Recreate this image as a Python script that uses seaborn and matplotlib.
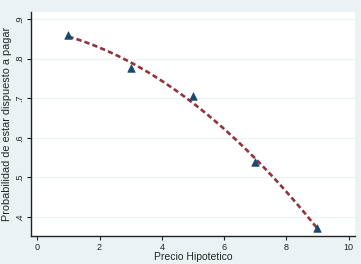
import numpy as np
import pandas as pd
import matplotlib
matplotlib.use("Agg")
import matplotlib.pyplot as plt
import seaborn as sns

# ========= DATOS =========
precio = [1, 3, 5, 7, 9]
probabilidad = [0.860, 0.776, 0.705, 0.539, 0.372]
yticks = [0.4, 0.5, 0.6, 0.7, 0.8, 0.9]
ytick_labels = [".4", ".5", ".6", ".7", ".8", ".9"]
xticks = [0, 2, 4, 6, 8, 10]

df = pd.DataFrame({"precio": precio, "prob": probabilidad})

sns.set_theme(style="white")
plt.rcParams["font.family"] = ["Liberation Sans", "DejaVu Sans"]

fig = plt.figure(figsize=(3.61, 2.64), dpi=100)
fig.patch.set_facecolor("#eaf2f3")
ax = fig.add_axes([0.086, 0.106, 0.897, 0.849])
ax.set_facecolor("white")

# ajuste cuadratico (linea discontinua)
sns.regplot(data=df, x="precio", y="prob", order=2, ci=None, scatter=False,
            ax=ax, line_kws=dict(color="#90353b", lw=1.9, ls=(0, (2.0, 1.2))))
sns.scatterplot(data=df, x="precio", y="prob", marker="^", s=30,
                color="#1a476f", edgecolor="#1a476f", ax=ax, zorder=3)

ax.set_xlim(-0.2, 10.2)
ax.set_ylim(0.352, 0.918)
ax.set_xticks(xticks)
ax.set_yticks(yticks)
ax.set_yticklabels(ytick_labels, rotation=90, va="center")
ax.tick_params(axis="both", labelsize=6.5, length=3, width=0.8, color="#222222",
               pad=2, left=True, bottom=True)
ax.grid(axis="y", color="#eaf2f3", lw=0.8)
ax.set_axisbelow(True)
for s in ["top", "right"]:
    ax.spines[s].set_visible(False)
for s in ["left", "bottom"]:
    ax.spines[s].set_color("#222222")
    ax.spines[s].set_linewidth(1.0)

ax.set_xlabel("Precio Hipotetico", fontsize=7.5, labelpad=0)
ax.set_ylabel("Probabilidad de estar dispuesto a pagar", fontsize=7.8, labelpad=2)

plt.savefig("out.png", dpi=100, facecolor=fig.get_facecolor())
plt.close()
